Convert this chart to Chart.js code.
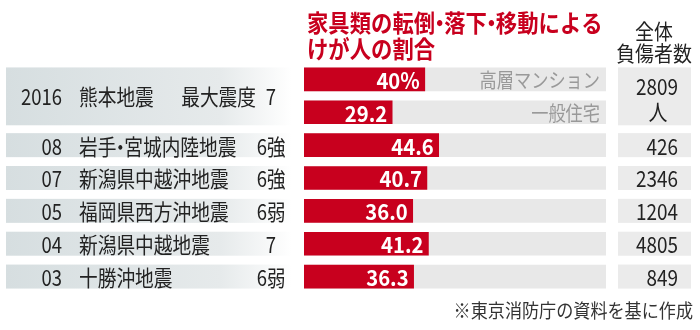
<!DOCTYPE html>
<html><head><meta charset="utf-8">
<script src="https://cdn.jsdelivr.net/npm/chart.js@4/dist/chart.umd.min.js"></script>
<style>html,body{margin:0;padding:0;background:#fff}#wrap{width:700px;height:330px;position:relative}</style>
</head><body><div id="wrap"><canvas id="c" width="700" height="330"></canvas></div>
<script>
// ---- data ----
const categories = ['熊本地震・高層マンション','熊本地震・一般住宅','岩手・宮城内陸地震','新潟県中越沖地震','福岡県西方沖地震','新潟県中越地震','十勝沖地震'];
const injuryShare = [40, 29.2, 44.6, 40.7, 36.0, 41.2, 36.3];
const shareLabels = ['40%','29.2','44.6','40.7','36.0','41.2','36.3'];
const trackValues = [100, 100, 100, 100, 100, 100, 100];
const housingTypes = ['高層マンション','一般住宅'];
const years = ['2016','08','07','05','04','03'];
const quakeNames = ['熊本地震','岩手・宮城内陸地震','新潟県中越沖地震','福岡県西方沖地震','新潟県中越地震','十勝沖地震'];
const intensities = ['7','6強','6強','6弱','7','6弱'];
const intensityPrefix = '最大震度';
const totalInjured = ['2809','426','2346','1204','4805','849'];
const injuredUnit = '人';
const titleLines = ['家具類の転倒・落下・移動による','けが人の割合'];
const totalHeader = ['全体','負傷者数'];
const sourceNote = '※東京消防庁の資料を基に作成';
// quake index -> category rows
const quakeRows = [[0,1],[2],[3],[4],[5],[6]];

const FONT = "'Noto Sans CJK JP','Noto Sans',sans-serif";
const RED = '#c8001e';

// draws text; the middle dot '・' is set narrow (proportional) as in the print original
function txt(ctx, s, x, y, size, opts) {
  opts = opts || {};
  const sx = opts.sx || 0.86;
  ctx.save();
  ctx.font = (opts.bold ? 'bold ' : '') + size + 'px ' + FONT;
  ctx.fillStyle = opts.color || '#222';
  ctx.textBaseline = 'middle';
  ctx.translate(x, y);
  ctx.scale(sx, 1);
  const parts = s.split('・');
  const dotW = size * 0.42;
  let total = 0;
  parts.forEach((p, i) => { total += ctx.measureText(p).width; if (i < parts.length - 1) total += dotW; });
  const align = opts.align || 'left';
  let cx = align === 'left' ? 0 : align === 'right' ? -total : -total / 2;
  ctx.textAlign = 'left';
  parts.forEach((p, i) => {
    ctx.fillText(p, cx, 0);
    cx += ctx.measureText(p).width;
    if (i < parts.length - 1) {
      ctx.textAlign = 'center';
      ctx.fillText('・', cx + dotW / 2, 0);
      ctx.textAlign = 'left';
      cx += dotW;
    }
  });
  ctx.restore();
}

const tablePlugin = {
  id: 'table',
  beforeDatasetsDraw(chart) {
    const ctx = chart.ctx;
    const ys = chart.scales.y;
    const half = 12;
    quakeRows.forEach((rows, i) => {
      const top = ys.getPixelForValue(rows[0]) - half;
      const bot = ys.getPixelForValue(rows[rows.length - 1]) + half + (rows.length > 1 ? 1 : 0);
      const g = ctx.createLinearGradient(6, 0, 292, 0);
      g.addColorStop(0, '#d6dee0');
      g.addColorStop(0.75, '#e6eaeb');
      g.addColorStop(1, 'rgba(255,255,255,1)');
      ctx.fillStyle = g;
      ctx.fillRect(6, top, 286, bot - top);
      ctx.fillStyle = '#ebebeb';
      ctx.fillRect(618, top, 73, bot - top);
    });
  },
  afterDatasetsDraw(chart) {
    const ctx = chart.ctx;
    const ys = chart.scales.y, xs = chart.scales.x;
    txt(ctx, titleLines[0], 307, 23, 24, {bold: true, color: RED, sx: 0.89});
    txt(ctx, titleLines[1], 307, 49, 24, {bold: true, color: RED, sx: 0.89});
    txt(ctx, totalHeader[0], 654, 31, 21, {align: 'center', sx: 0.9});
    txt(ctx, totalHeader[1], 654, 53, 21, {align: 'center', sx: 0.9});
    injuryShare.forEach((v, i) => {
      const y = ys.getPixelForValue(i);
      txt(ctx, shareLabels[i], xs.getPixelForValue(v) - 5, y + 1, 22, {bold: true, color: '#fff', align: 'right', sx: 0.92});
    });
    housingTypes.forEach((h, i) => {
      txt(ctx, h, 600, ys.getPixelForValue(i) + 1, 20, {color: '#999', align: 'right', sx: 0.86});
    });
    quakeRows.forEach((rows, i) => {
      const yc = (ys.getPixelForValue(rows[0]) + ys.getPixelForValue(rows[rows.length - 1])) / 2 + 1;
      txt(ctx, years[i], 62, yc, 22, {align: 'right', sx: 0.84});
      txt(ctx, quakeNames[i], 79, yc, 22, {sx: 0.85});
      if (rows.length > 1) {
        txt(ctx, intensityPrefix, 256, yc, 22, {align: 'right', sx: 0.85});
      }
      txt(ctx, intensities[i], 271, yc, 22, {align: 'center', sx: 0.84});
      if (rows.length > 1) {
        txt(ctx, totalInjured[i], 678, yc - 10, 22, {align: 'right', sx: 0.86});
        txt(ctx, injuredUnit, 658, yc + 15, 22, {align: 'center', sx: 0.86});
      } else {
        txt(ctx, totalInjured[i], 678, yc, 22, {align: 'right', sx: 0.86});
      }
    });
    txt(ctx, sourceNote, 693, 311, 19, {align: 'right', color: '#333', sx: 0.9});
  }
};

new Chart(document.getElementById('c'), {
  type: 'bar',
  data: {
    labels: categories,
    datasets: [
      {data: injuryShare, backgroundColor: RED, grouped: false, order: 0, barThickness: 23},
      {data: trackValues, backgroundColor: '#e8e8e8', grouped: false, order: 1, barThickness: 23}
    ]
  },
  options: {
    indexAxis: 'y',
    responsive: false,
    animation: false,
    layout: {padding: {left: 304, right: 94, top: 63, bottom: 37}},
    scales: {
      x: {display: false, min: 0, max: 100},
      y: {display: false}
    },
    plugins: {legend: {display: false}, tooltip: {enabled: false}}
  },
  plugins: [tablePlugin]
});
</script></body></html>
